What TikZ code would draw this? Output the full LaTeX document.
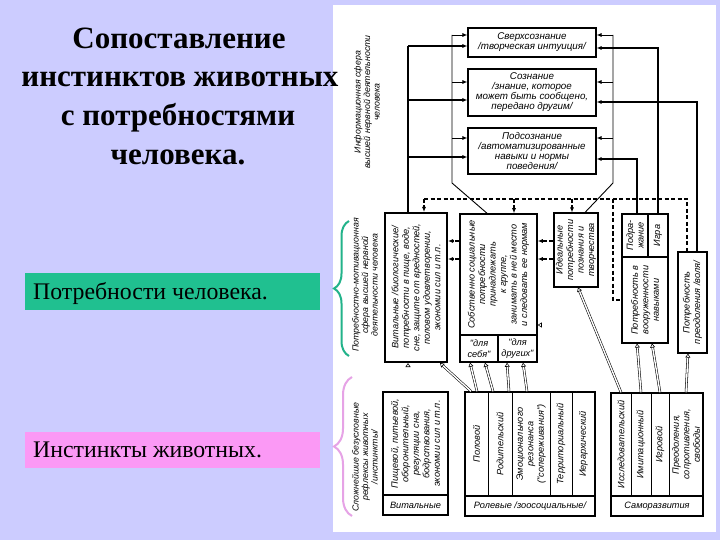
\documentclass[tikz,border=0pt]{standalone}
\usepackage{fontspec}
\setmainfont{Liberation Serif}
\newfontfamily\diag{Liberation Sans}
\usetikzlibrary{arrows.meta,decorations.pathreplacing}
\definecolor{lav}{HTML}{CCCCFF}
\definecolor{grn}{HTML}{20C090}
\definecolor{pnk}{HTML}{FB99F5}
\definecolor{gbr}{HTML}{22B38A}
\definecolor{pbr}{HTML}{E6A3E6}
\tikzset{
  bx/.style={draw, line width=1.1pt, inner sep=0pt},
  tx/.style={font=\diag\itshape\fontsize{9.2}{10.5}\selectfont, align=center, inner sep=0pt},
  tb/.style={font=\diag\itshape\fontsize{9.8}{10}\selectfont, align=center, inner sep=0pt},
  an/.style={font=\diag\itshape\fontsize{8.8}{9.5}\selectfont, align=center, inner sep=0pt, rotate=90},
  vt/.style={tx, rotate=90},
  thk/.style={line width=1.6pt},
  thn/.style={line width=0.9pt},
  tip/.style={-{Latex[length=5pt,width=4pt]}},
  dsh/.style={line width=1.1pt, dash pattern=on 4pt off 2.5pt},
  dbl/.style={double=white, double distance=1.4pt, line width=0.55pt},
  dbla/.style={dbl, -{Triangle[open,length=4pt,width=5pt]}},
  ttl/.style={font=\bfseries\fontsize{31}{36}\selectfont, anchor=base, inner sep=0pt},
}
\begin{document}
\begin{tikzpicture}[x=1pt,y=-1pt]
\useasboundingbox (0,0) rectangle (720,540);
\fill[lav] (0,0) rectangle (720,540);
\fill[white] (333,5) rectangle (716,532);

% ---- left side
\node[ttl] (t1) at (179,49) {Сопоставление};
\node[ttl] (t2) at (180,87) {инстинктов животных};
\node[ttl] (t3) at (178,126) {с потребностями};
\node[ttl] (t4) at (178,165) {человека.};
\fill[grn] (25,273) rectangle (320,310);
\node[anchor=base west, inner sep=0pt, font=\fontsize{23.8}{26}\selectfont] (lg) at (33,299) {Потребности человека.};
\fill[pnk] (25,432) rectangle (320,468);
\node[anchor=base west, inner sep=0pt, font=\fontsize{23.8}{26}\selectfont] (lp) at (33,457) {Инстинкты животных.};

% ---- braces
\draw[gbr, line width=2pt, decorate, decoration={brace, amplitude=15pt}] (349,356) -- (349,221);
\draw[pbr, line width=2pt, decorate, decoration={brace, amplitude=18pt}] (352,516) -- (352,377);

% ---- side annotations
\node[an] (a1) at (367,102) {Информационная сфера\\высшей нервной деятельности\\человека};
\node[an] (a2) at (365,285) {Потребностно-мотивационная\\сфера высшей нервной\\деятельности человека};
\node[an] (a3) at (365,457) {Сложнейшие безусловные\\рефлексы животных\\/инстинкты/};

% ---- top boxes
\node[bx, minimum width=128, minimum height=29, tb] (sv) at (532,42.5) {Сверхсознание\\/творческая интуиция/};
\node[bx, minimum width=128, minimum height=47, tb] (soz) at (532,92.5) {Сознание\\/знание, которое\\может быть сообщено,\\передано другим/};
\node[bx, minimum width=128, minimum height=46, tb] (pod) at (532,151) {Подсознание\\/автоматизированные\\навыки и нормы\\поведения/};

% ---- needs boxes
\node[bx, line width=2pt, minimum width=62, minimum height=149] (vneed) at (416,287.5) {};
\node[vt] (vneedt) at (416,287.5) {Витальные /биологические/\\потребности в пище, воде,\\сне, защите от вредностей,\\половом удовлетворении,\\экономии сил и т.п.};
\node[bx, line width=1.5pt, minimum width=77, minimum height=148] (soc) at (498.5,288) {};
\draw[line width=1.1pt] (soc.west |- 0,335) -- (soc.east |- 0,335);
\draw[line width=1.1pt] (498,335) -- (soc.south -| 498,0);
\node[vt] (soct) at (498.5,274.5) {Собственно социальные\\потребности\\принадлежать\\к группе,\\занимать в ней место\\и следовать ее нормам};
\node[tx] (s1) at (479,348.5) {"для\\себя"};
\node[tx] (s2) at (517.5,348.5) {"для\\других"};
\node[bx, minimum width=44, minimum height=74] (ideal) at (576,250) {};
\node[vt] (idealt) at (576,250) {Идеальные\\потребности\\познания и\\творчества};
\node[bx, minimum width=26, minimum height=43] (podr) at (635,235.5) {};
\node[vt] (podrt) at (635,235.5) {Подра-\\жание};
\node[bx, minimum width=20, minimum height=43] (igra) at (658,235.5) {};
\node[vt] (igrat) at (658,235.5) {Игра};
\node[bx, minimum width=46, minimum height=86] (voor) at (645,300) {};
\node[vt] (voort) at (645,300) {Потребность в\\вооруженности\\навыками};
\node[bx, minimum width=29, minimum height=101] (preod) at (692.5,302.5) {};
\node[vt] (preodt) at (692.5,302.5) {Потребность\\преодоления /воля/};

% ---- instinct boxes
\node[bx, line width=1.5pt, minimum width=65, minimum height=123] (vinst) at (415.5,453.5) {};
\draw[line width=1.1pt] (vinst.west |- 0,495) -- (vinst.east |- 0,495);
\node[vt] (vinstt) at (415.5,443.5) {Пищевой, питьевой,\\оборонительный,\\регуляции сна,\\бодрствования,\\экономии сил и т.п.};
\node[tx] (vinstl) at (415.5,505.5) {Витальные};

\node[bx, line width=1.5pt, minimum width=130, minimum height=124] (rol) at (530,454) {};
\draw[line width=1.1pt] (rol.west |- 0,496) -- (rol.east |- 0,496);
\foreach \xx in {488,512,550,572} \draw[line width=0.9pt] (rol.north -| \xx,0) -- (\xx,496);
\node[vt] (r1) at (476.5,444) {Половой};
\node[vt] (r2) at (500,444) {Родительский};
\node[vt] (r3) at (531,444) {Эмоционального\\резонанса\\("сопереживания")};
\node[vt] (r4) at (561,444) {Территориальный};
\node[vt] (r5) at (583.5,444) {Иерархический};
\node[tx] (roll) at (530,506) {Ролевые /зоосоциальные/};

\node[bx, line width=1.5pt, minimum width=92, minimum height=123] (samo) at (657,454.5) {};
\draw[line width=1.1pt] (samo.west |- 0,496) -- (samo.east |- 0,496);
\foreach \xx in {631,651,669} \draw[line width=0.9pt] (samo.north -| \xx,0) -- (\xx,496);
\node[vt] (m1) at (621,444.5) {Исследовательский};
\node[vt] (m2) at (641,444.5) {Имитационный};
\node[vt] (m3) at (660,444.5) {Игровой};
\node[vt] (m4) at (686,444.5) {Преодоления,\\сопротивления,\\свободы};
\node[tx] (samol) at (657,506) {Саморазвития};

% ---- connectors: left bold
\draw[thk] (vneed.north -| 408,0) -- (408,46);
\foreach \yy in {46,100,157} \draw[thk,tip] (408,\yy) -- (sv.west |- 0,\yy);
% inner thin frame
\draw[thn] (soc.north -| 487,0) -- (452,183) -- (452,35);
\foreach \yy in {35,82,138} \draw[thn,tip] (452,\yy) -- (sv.west |- 0,\yy);
\draw[thn] (ideal.north -| 585,0) -- (613,183) -- (613,35);
\foreach \yy in {35,82,138} \draw[thn,tip] (613,\yy) -- (sv.east |- 0,\yy);
% right lines
\draw[line width=1.2pt,tip] (igra.north -| 658,0) -- (658,48) -- (sv.east |- 0,48);
\draw[line width=1.2pt,tip] (preod.north -| 697,0) -- (697,102) -- (soz.east |- 0,102);
\draw[line width=1.2pt,tip] (podr.north -| 637,0) -- (637,159) -- (pod.east |- 0,159);
% dashed
\draw[dsh] (424,199) -- (687,199) -- (preod.north -| 687,0);
\draw[dsh,tip] (424,199) -- (vneed.north -| 424,0);
\draw[dsh,tip] (514,199) -- (soc.north -| 514,0);
\draw[dsh,tip] (572,199) -- (ideal.north -| 572,0);
\draw[dsh] (613,199) -- (613,300) -- (voor.west |- 0,300);
\foreach \yy in {241,259} {
  \draw[dsh,tip] (soc.west |- 0,\yy) -- (vneed.east |- 0,\yy);
  \draw[dsh,tip] (ideal.west |- 0,\yy) -- (soc.east |- 0,\yy);
}
% double arrows
\draw[dbla] (vinst.north -| 408,0) -- (vneed.south -| 408,0);
\draw[dbla] (rol.north -| 471,0) -- (vneed.south -| 440,0);
\draw[dbla] (rol.north -| 477,0) -- (soc.south -| 470,0);
\draw[dbla] (rol.north -| 493,0) -- (soc.south -| 485,0);
\draw[dbla] (rol.north -| 509,0) -- (soc.south -| 507,0);
\draw[dbla] (rol.north -| 527,0) -- (soc.south -| 523,0);
\draw[dbl] (rol.north -| 557,0) -- (557,326.5);
\draw[dbla] (rol.north -| 577,0) -- (577,325) -- (soc.east |- 0,325);
\draw[dbla] (samo.north -| 621,0) -- (ideal.south -| 578,0);
\draw[dbla] (samo.north -| 641,0) -- (voor.south -| 637,0);
\draw[dbla] (samo.north -| 660,0) -- (voor.south -| 652,0);
\draw[dbla] (samo.north -| 686,0) -- (preod.south -| 688,0);
\end{tikzpicture}
\end{document}
